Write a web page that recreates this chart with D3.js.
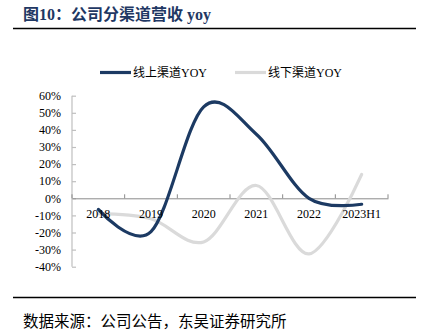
<!DOCTYPE html>
<html><head><meta charset="utf-8">
<script src="https://cdn.jsdelivr.net/npm/d3@7"></script>
<style>body{margin:0;background:#fff}svg{display:block}</style>
</head><body>
<script>
const categories = ["2018","2019","2020","2021","2022","2023H1"];
const online = [-6.5, -19.5, 53.5, 37.5, 0, -3.5];
const offline = [-9, -12, -25.5, 7.5, -32.5, 14];
const yTicks = [60,50,40,30,20,10,0,-10,-20,-30,-40];
const seriesNames = ["线上渠道YOY","线下渠道YOY"];

const W=425,H=335;
const svg=d3.select("body").append("svg").attr("width",W).attr("height",H);
const latin='"Liberation Serif","Times New Roman",serif';
const cjk='"Liberation Serif","Noto Sans CJK SC",serif';
const navy="#1c3a63", grayL="#dadada";

// title
svg.append("text").attr("x",23).attr("y",20).attr("font-size",16).attr("font-weight","bold")
  .attr("fill","#1f3864").attr("font-family",cjk).text("图10：公司分渠道营收 yoy");
svg.append("line").attr("x1",13).attr("x2",416).attr("y1",28.5).attr("y2",28.5).attr("stroke","#000").attr("stroke-width",1.5);
svg.append("line").attr("x1",13).attr("x2",416).attr("y1",297.5).attr("y2",297.5).attr("stroke","#000").attr("stroke-width",1.5);
svg.append("text").attr("x",23).attr("y",327).attr("font-size",15.5).attr("fill","#000")
  .attr("font-family",cjk).text("数据来源：公司公告，东吴证券研究所");

const x=d3.scaleBand().domain(categories).range([72,388]);
const y=d3.scaleLinear().domain([-40,60]).range([266.7,95.7]);

// y axis
const ya=svg.append("g").attr("transform","translate(72,0)")
  .call(d3.axisRight(y).tickValues(yTicks).tickSize(4).tickFormat(""));
ya.selectAll("path,line").attr("stroke","#bfbfbf").attr("stroke-width",1.2);
ya.select(".domain").attr("d",`M0,${y(60)}V${y(-40)}`);
svg.append("g").selectAll("text").data(yTicks).join("text")
  .attr("x",61).attr("y",d=>y(d)+4.2).attr("text-anchor","end")
  .attr("font-size",12).attr("font-family",latin).attr("fill","#000").text(d=>d+"%");

// x axis
const xa=svg.append("g").attr("transform",`translate(0,${y(0)})`)
  .call(d3.axisTop(x).tickSize(0).tickFormat(""));
xa.select(".domain").attr("stroke","#8a8a8a").attr("stroke-width",1);
const bounds=categories.map((c)=>x(c)+x.bandwidth()).concat([x(categories[0])]);
xa.selectAll("line.bt").data(bounds).join("line").attr("class","bt")
  .attr("x1",d=>d).attr("x2",d=>d).attr("y1",0).attr("y2",-4).attr("stroke","#8a8a8a");

// lines
const line=d3.line().x((d,i)=>x(categories[i])+x.bandwidth()/2).y(d=>y(d)).curve(d3.curveCardinal.tension(0));
svg.append("path").datum(offline).attr("d",line).attr("fill","none").attr("stroke",grayL).attr("stroke-width",3.2).attr("stroke-linecap","round");
svg.append("path").datum(online).attr("d",line).attr("fill","none").attr("stroke",navy).attr("stroke-width",3.2).attr("stroke-linecap","round");

// x labels
svg.append("g").selectAll("text").data(categories).join("text")
  .attr("x",d=>x(d)+x.bandwidth()/2).attr("y",217.5).attr("text-anchor","middle")
  .attr("font-size",12).attr("font-family",latin).attr("fill","#000").text(d=>d);

// legend
const leg=[{n:seriesNames[0],c:navy,x1:100},{n:seriesNames[1],c:grayL,x1:235}];
const lg=svg.append("g").selectAll("g").data(leg).join("g");
lg.append("line").attr("x1",d=>d.x1).attr("x2",d=>d.x1+31).attr("y1",72.5).attr("y2",72.5)
  .attr("stroke",d=>d.c).attr("stroke-width",3.2);
lg.append("text").attr("x",d=>d.x1+33).attr("y",76.5).attr("font-size",12).attr("font-family",cjk)
  .attr("fill","#000").text(d=>d.n);
</script>
</body></html>
